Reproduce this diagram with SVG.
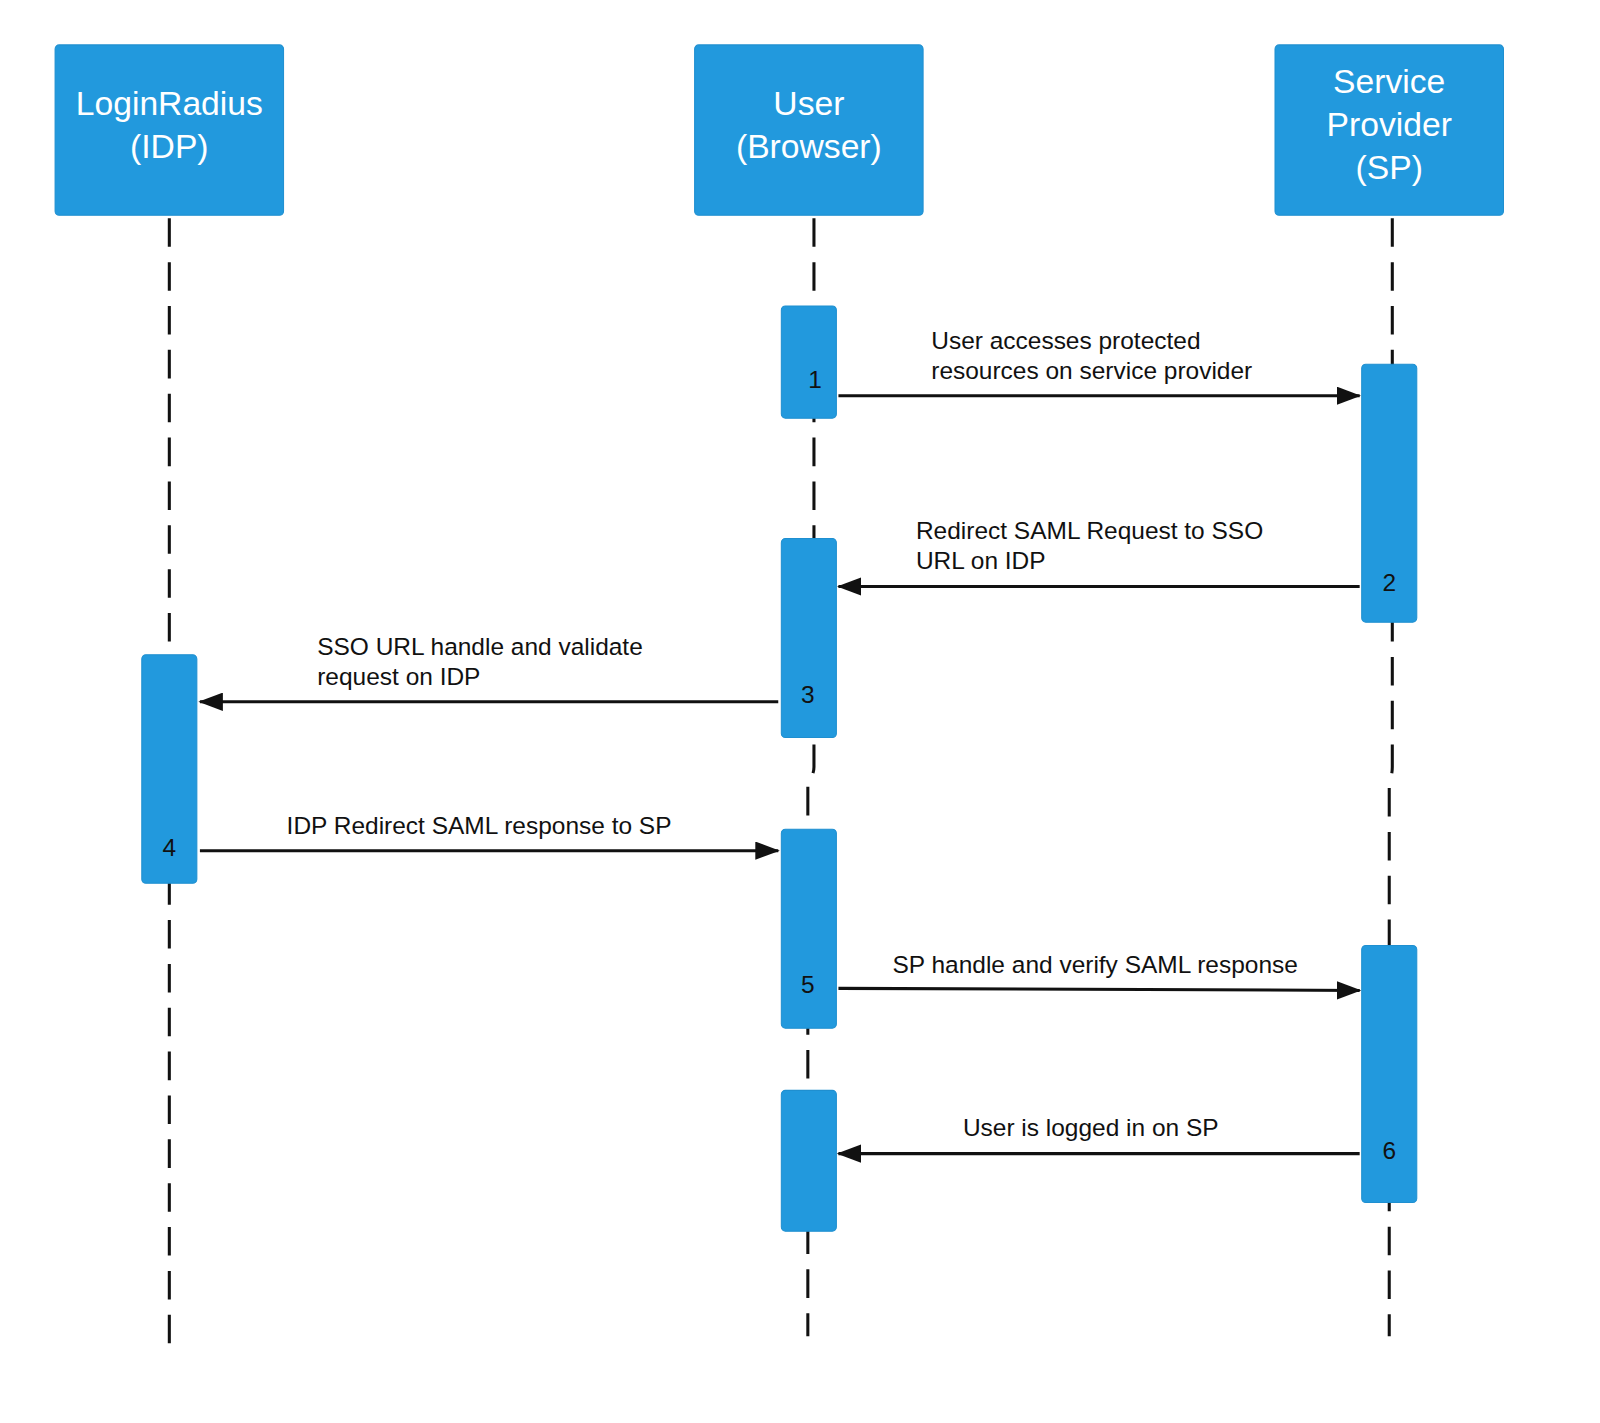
<svg xmlns="http://www.w3.org/2000/svg" width="1600" height="1423" viewBox="0 0 1600 1423">
<style>
.hdr{fill:#2299dd;stroke:#1f8fd0;stroke-width:1}
.act{fill:#2299dd;stroke:#1f8fd0;stroke-width:1}
.ht{font-family:"Liberation Sans",Arial,sans-serif;font-size:33px;fill:#fff;text-anchor:middle}
.n{font-family:"Liberation Sans",Arial,sans-serif;font-size:24px;fill:#111;text-anchor:middle}
.lbl{font-family:"Liberation Sans",Arial,sans-serif;font-size:24px;fill:#111}
.life{fill:none;stroke:#111;stroke-width:3;stroke-dasharray:28 15}
.arr{fill:none;stroke:#111;stroke-width:3;marker-end:url(#ah)}
</style>
<defs><marker id="ah" markerWidth="8" markerHeight="6" refX="7.5" refY="3" orient="auto" markerUnits="strokeWidth"><path d="M0,0L8,3L0,6z" fill="#111"/></marker></defs>
<rect width="1600" height="1423" fill="#fff"/>
<g transform="scale(1.02)">
<g id="lifelines">
<path class="life" d="M166,214V1325"/>
<path class="life" d="M798,214V752Q798,760 792,766V1310"/>
<path class="life" d="M1365,214V752Q1365,760 1362,766V1310"/>
</g>
<g id="idp"><rect class="hdr" x="54" y="44" width="224" height="167" rx="4"/><text class="ht" x="166" y="113">LoginRadius</text><text class="ht" x="166" y="155">(IDP)</text></g>
<g id="user"><rect class="hdr" x="681" y="44" width="224" height="167" rx="4"/><text class="ht" x="793" y="113">User</text><text class="ht" x="793" y="155">(Browser)</text></g>
<g id="sp"><rect class="hdr" x="1250" y="44" width="224" height="167" rx="4"/><text class="ht" x="1362" y="91">Service</text><text class="ht" x="1362" y="133">Provider</text><text class="ht" x="1362" y="175">(SP)</text></g>
<g id="act1"><rect class="act" x="766" y="300" width="54" height="110" rx="4"/><text class="n" x="799" y="380">1</text></g>
<g id="act2"><rect class="act" x="1335" y="357" width="54" height="253" rx="4"/><text class="n" x="1362" y="579">2</text></g>
<g id="act3"><rect class="act" x="766" y="528" width="54" height="195" rx="4"/><text class="n" x="792" y="689">3</text></g>
<g id="act4"><rect class="act" x="139" y="642" width="54" height="224" rx="4"/><text class="n" x="166" y="839">4</text></g>
<g id="act5"><rect class="act" x="766" y="813" width="54" height="195" rx="4"/><text class="n" x="792" y="974">5</text></g>
<g id="act6"><rect class="act" x="1335" y="927" width="54" height="252" rx="4"/><text class="n" x="1362" y="1136">6</text></g>
<g id="act7"><rect class="act" x="766" y="1069" width="54" height="138" rx="4"/></g>
<g id="connectors">
<path class="arr" d="M822,388H1333"/>
<path class="arr" d="M1333,575H822"/>
<path class="arr" d="M763,688H196"/>
<path class="arr" d="M196,834H763"/>
<path class="arr" d="M822,969L1333,971"/>
<path class="arr" d="M1333,1131H822"/>
</g>
<g id="labels">
<text class="lbl" x="913" y="342">User accesses protected</text>
<text class="lbl" x="913" y="372">resources on service provider</text>
<text class="lbl" x="898" y="528">Redirect SAML Request to SSO</text>
<text class="lbl" x="898" y="558">URL on IDP</text>
<text class="lbl" x="311" y="642">SSO URL handle and validate</text>
<text class="lbl" x="311" y="672">request on IDP</text>
<text class="lbl" x="281" y="818">IDP Redirect SAML response to SP</text>
<text class="lbl" x="875" y="954">SP handle and verify SAML response</text>
<text class="lbl" x="944" y="1114">User is logged in on SP</text>
</g>
</g>
</svg>
